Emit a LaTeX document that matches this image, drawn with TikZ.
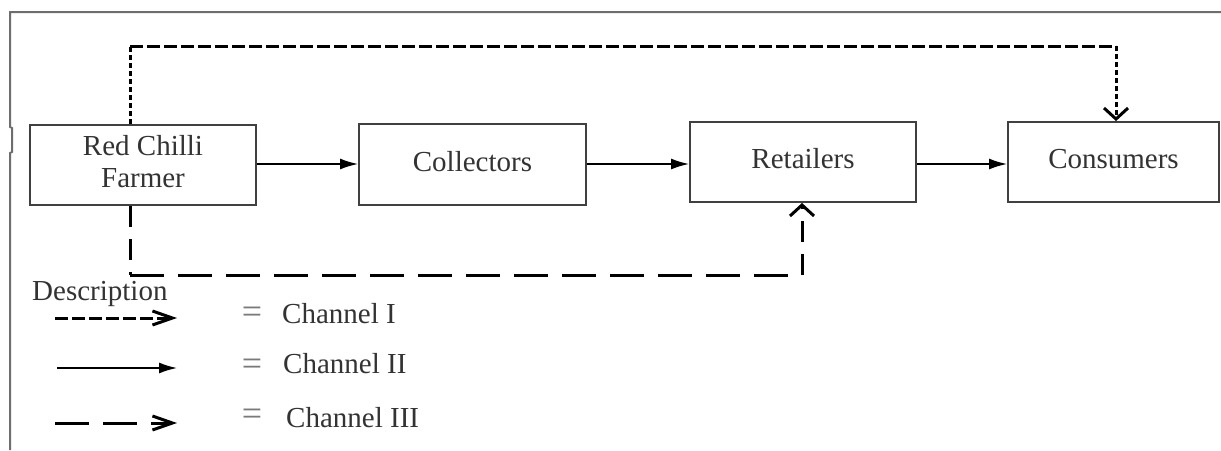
\documentclass[tikz,border=0pt]{standalone}
\usepackage{fontspec}
\setmainfont{Liberation Serif}
\usetikzlibrary{arrows.meta}
\definecolor{txt}{HTML}{333333}
\definecolor{boxc}{HTML}{404040}
\definecolor{framec}{HTML}{6E6E6E}
\definecolor{eqc}{HTML}{7A7A7A}
\begin{document}
\begin{tikzpicture}[x=1pt,y=-1pt,
  every node/.style={font=\fontsize{29}{32}\selectfont, text=txt},
  box/.style={draw=boxc, line width=1.9pt, rectangle, inner sep=0pt, text depth=7pt},
  frameline/.style={draw=framec, line width=2pt},
  chtwo/.style={line width=1.6pt, -{Latex[length=18pt,width=11pt]}},
  choneh/.style={line width=3pt, dash pattern=on 13pt off 4pt},
  chonev/.style={line width=3pt, dash pattern=on 5pt off 3pt},
  chthreeh/.style={line width=3pt, dash pattern=on 34pt off 14pt},
  chthreev/.style={line width=3pt, dash pattern=on 21pt off 12pt},
  barbmain/.style={-{Straight Barb[length=11pt,width=24pt,line width=3pt]}},
  barbleg/.style={-{Straight Barb[length=20pt,width=14pt,line width=3pt]}},
  eqsign/.style={text=eqc, inner sep=0pt, font=\fontsize{36}{36}\selectfont},
  legtext/.style={anchor=base west, inner sep=0pt}
]
\useasboundingbox (0,0) rectangle (1221,450);
\fill[white] (0,0) rectangle (1221,450);

% frame
\draw[frameline] (10,450) -- (10,153) -- (12,152) -- (12,128) -- (10,127) -- (10,12) -- (1221,12);

% boxes
\node[box, minimum width=226pt, minimum height=80pt, align=center] (farmer) at (143,165) {Red Chilli\\Farmer};
\node[box, minimum width=227pt, minimum height=81pt] (collectors) at (472.5,164.5) {Collectors};
\node[box, minimum width=226pt, minimum height=80pt] (retailers) at (803,162) {Retailers};
\node[box, minimum width=211pt, minimum height=80pt] (consumers) at (1113.5,162) {Consumers};

% Channel II
\draw[chtwo] (farmer.east |- 0,164) -- (collectors.west |- 0,164);
\draw[chtwo] (collectors.east |- 0,164) -- (retailers.west |- 0,164);
\draw[chtwo] (retailers.east |- 0,164) -- (consumers.west |- 0,164);

% Channel I
\coordinate (c1a) at (130,46);
\coordinate (c1b) at (1116,46);
\draw[chonev] (c1a |- farmer.north) -- (c1a);
\draw[choneh] (c1a) -- (c1b);
\draw[chonev, barbmain] (c1b) -- (c1b |- consumers.north);

% Channel III
\coordinate (c3a) at (130,275);
\coordinate (c3b) at (802,275);
\draw[chthreev] (c3a |- farmer.south) -- (c3a);
\draw[chthreeh] (c3a) -- (c3b);
\draw[chthreev, barbmain] (c3b) -- (c3b |- retailers.south);

% legend
\node[legtext] (desc) at (32,300) {Description};
\coordinate (l1s) at (55,318); \coordinate (l1e) at (177,318);
\coordinate (l2s) at (57,368); \coordinate (l2e) at (177,368);
\coordinate (l3s) at (55,423); \coordinate (l3e) at (177,423);
\draw[choneh, barbleg] (l1s) -- (l1e);
\draw[chtwo] (l2s) -- (l2e);
\draw[chthreeh, barbleg] (l3s) -- (l3e);

\node[eqsign] (eq1) at (252,315) {=};
\node[eqsign] (eq2) at (252,367) {=};
\node[eqsign] (eq3) at (252,417) {=};
\node[legtext] (t1) at (282,323) {Channel I};
\node[legtext] (t2) at (283,373) {Channel II};
\node[legtext] (t3) at (286,427) {Channel III};
\end{tikzpicture}
\end{document}
